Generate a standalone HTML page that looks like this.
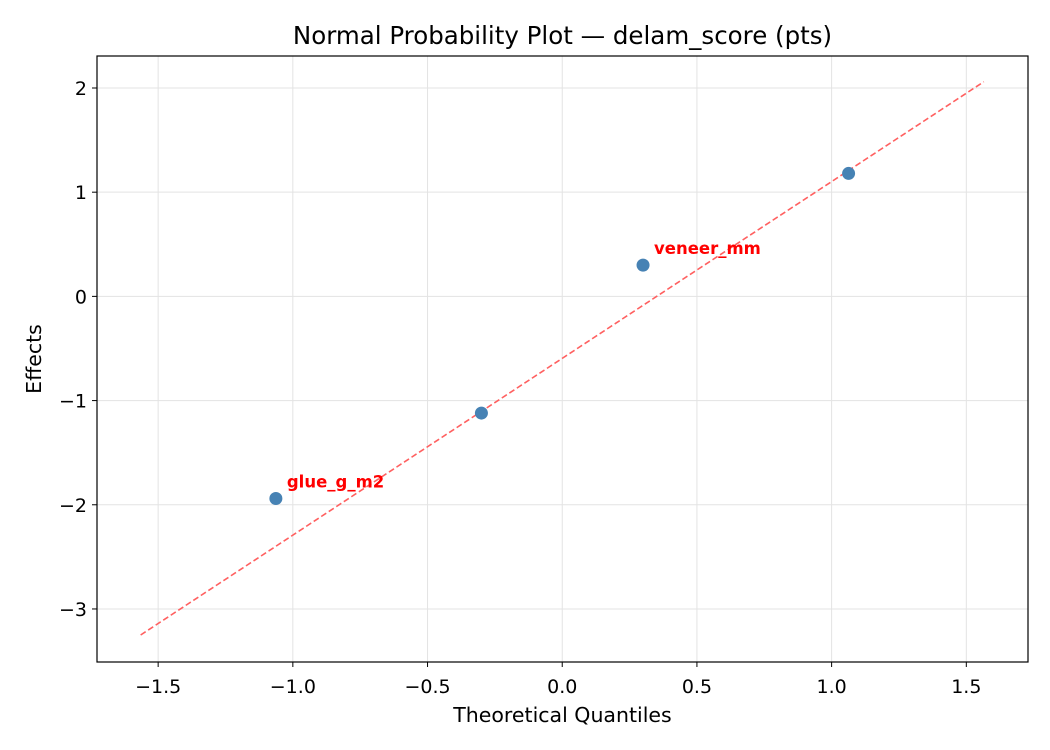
<!DOCTYPE html>
<html><head><meta charset="utf-8"><style>
body{margin:0;background:#fff;}
svg{display:block;font-family:"DejaVu Sans","Liberation Sans",sans-serif;}
</style></head><body>
<svg id="chart" width="1050" height="750" xmlns="http://www.w3.org/2000/svg"></svg>
<script>
const quantiles = [-1.063, -0.30, 0.30, 1.063];
const effects = [-1.94, -1.12, 0.30, 1.18];
const pointLabels = ["glue_g_m2", "", "veneer_mm", ""];
const xTicks = [-1.5, -1.0, -0.5, 0.0, 0.5, 1.0, 1.5];
const yTicks = [-3, -2, -1, 0, 1, 2];
const refLineX = [-1.565, 1.565];
const refLineY = [-3.25, 2.06];

const L=97,R=1028,T=56,B=662;
const xMin=-1.727,xMax=1.729,yMin=-3.509,yMax=2.307;
const sx=v=>L+(v-xMin)/(xMax-xMin)*(R-L);
const sy=v=>B-(v-yMin)/(yMax-yMin)*(B-T);
const svg=document.getElementById('chart');
const NS='http://www.w3.org/2000/svg';
function mk(tag,attrs,parent){const e=document.createElementNS(NS,tag);for(const k in attrs)e.setAttribute(k,attrs[k]);(parent||svg).appendChild(e);return e;}
const fmt=v=>(v<0?'\u2212':'')+Math.abs(v).toFixed(1);
const fmtI=v=>(v<0?'\u2212':'')+Math.abs(v);

xTicks.forEach(v=>{
  const g=mk('line',{x1:sx(v),x2:sx(v),y1:T,y2:B,stroke:'#e3e3e3','stroke-width':1});
  
  
  const t=mk('line',{x1:sx(v),x2:sx(v),y1:B,y2:B+5,stroke:'#000','stroke-width':1});
  
  
  const l=mk('text',{x:sx(v),y:B+31,'text-anchor':'middle','font-size':19,fill:'#000'});
  l.textContent=fmt(v);
  
  
});
yTicks.forEach(v=>{
  const g=mk('line',{x1:L,x2:R,y1:sy(v),y2:sy(v),stroke:'#e3e3e3','stroke-width':1});
  
  
  const t=mk('line',{x1:L-5,x2:L,y1:sy(v),y2:sy(v),stroke:'#000','stroke-width':1});
  
  
  const l=mk('text',{x:L-10,y:sy(v)+7,'text-anchor':'end','font-size':19,fill:'#000'});
  l.textContent=fmtI(v);
  
  
});

const line=mk('line',{x1:sx(refLineX[0]),y1:sy(refLineY[0]),x2:sx(refLineX[1]),y2:sy(refLineY[1]),stroke:'#ff6060','stroke-width':1.6,'stroke-dasharray':'6,3'});



quantiles.forEach((q,i)=>{
  const c=mk('circle',{cx:sx(q),cy:sy(effects[i]),r:6.5,fill:'#4682b4'});
  
  
  if(pointLabels[i]){
    const t=mk('text',{x:sx(q)+11,y:sy(effects[i])-11,'font-size':16.5,'font-weight':'bold',fill:'#ff0000'});
    t.textContent=pointLabels[i];
    
    
  }
});

const frame=mk('rect',{x:L,y:T,width:R-L,height:B-T,fill:'none',stroke:'#000','stroke-width':1.2});



const title=mk('text',{x:(L+R)/2,y:44,'text-anchor':'middle','font-size':24.5,fill:'#000'});
title.textContent='Normal Probability Plot \u2014 delam_score (pts)';


const xt=mk('text',{x:(L+R)/2,y:722,'text-anchor':'middle','font-size':20.5,fill:'#000'});
xt.textContent='Theoretical Quantiles';


const yt=mk('text',{x:41,y:(T+B)/2,'text-anchor':'middle','font-size':20.5,fill:'#000',transform:'rotate(-90 41 '+((T+B)/2)+')'});
yt.textContent='Effects';


</script>
</body></html>
